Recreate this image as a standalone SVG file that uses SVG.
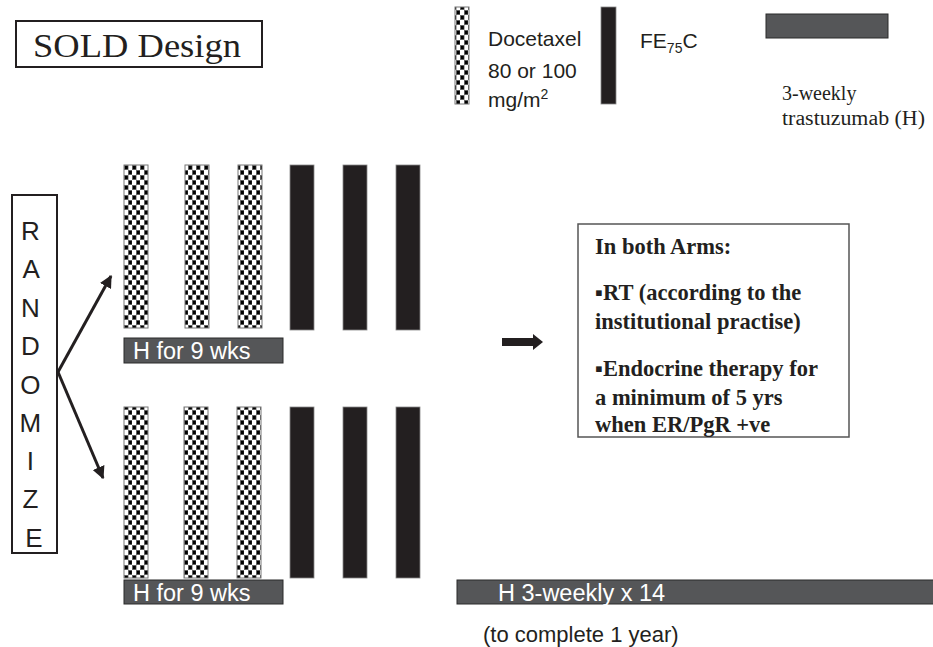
<svg xmlns="http://www.w3.org/2000/svg" width="933" height="647" viewBox="0 0 933 647">
<defs>
<pattern id="chk" x="124" y="165" width="8" height="10" patternUnits="userSpaceOnUse">
<rect width="8" height="10" fill="#fff"/>
<rect x="0.3" y="0.3" width="3.8" height="4.4" fill="#000" stroke="#666" stroke-width="0.6"/>
<rect x="4.3" y="5.3" width="3.8" height="4.4" fill="#000" stroke="#666" stroke-width="0.6"/>
</pattern>
<marker id="ah" viewBox="0 0 10 10" refX="9" refY="5" markerWidth="4.2" markerHeight="4.2" orient="auto" markerUnits="strokeWidth">
<path d="M0 0L10 5L0 10z" fill="#231f20"/>
</marker>
<style>
.chk{fill:url(#chk);stroke:#777;stroke-width:1}
.blk{fill:#231f20;stroke:#888;stroke-width:0.8}
.hbar{fill:#555658;stroke:#2a2a2a;stroke-width:1}
.sans{font-family:"Liberation Sans",Arial,sans-serif}
.serif{font-family:"Liberation Serif","Times New Roman",serif}
.wt{fill:#fff;font-size:23.5px}
.bx{font-family:"Liberation Serif","Times New Roman",serif;font-weight:bold;font-size:22.5px;fill:#231f20}
.rl{font-family:"Liberation Sans",Arial,sans-serif;font-size:26px;fill:#231f20}
</style>
</defs>
<rect width="933" height="647" fill="#fff"/>

<g id="title">
<rect x="16" y="21" width="246" height="46" fill="#fff" stroke="#231f20" stroke-width="2"/>
<text x="33" y="57" class="serif" font-size="34" fill="#231f20" textLength="208" lengthAdjust="spacingAndGlyphs">SOLD Design</text>
</g>

<g id="legend-docetaxel">
<rect x="455" y="7" width="14" height="97" class="chk"/>
<text class="sans" font-size="21" fill="#231f20"><tspan x="488" y="46">Docetaxel</tspan><tspan x="488" y="78">80 or 100</tspan><tspan x="488" y="107">mg/m<tspan font-size="14" dy="-8">2</tspan></tspan></text>
</g>

<g id="legend-fec">
<rect x="601" y="7" width="15" height="97" class="blk"/>
<text x="640" y="48" class="sans" font-size="21" fill="#231f20">FE<tspan font-size="14" dy="5">75</tspan><tspan dy="-5">C</tspan></text>
</g>

<g id="legend-h">
<rect x="766" y="14" width="122" height="24" class="hbar"/>
<text class="serif" font-size="20" fill="#231f20"><tspan x="782" y="100">3-weekly</tspan><tspan x="782" y="125" textLength="143" lengthAdjust="spacingAndGlyphs">trastuzumab (H)</tspan></text>
</g>

<g id="randomize">
<rect x="12" y="195" width="45" height="358" fill="#fff" stroke="#231f20" stroke-width="2"/>
<text class="rl" text-anchor="middle">
<tspan x="34" y="240">R</tspan>
<tspan x="34" y="278">A</tspan>
<tspan x="34" y="317">N</tspan>
<tspan x="34" y="355">D</tspan>
<tspan x="34" y="394">O</tspan>
<tspan x="34" y="432">M</tspan>
<tspan x="34" y="470">I</tspan>
<tspan x="34" y="508">Z</tspan>
<tspan x="34" y="547">E</tspan>
</text>
</g>

<g id="arm1">
<rect x="124" y="165" width="24" height="163" class="chk"/>
<rect x="185" y="165" width="24" height="163" class="chk"/>
<rect x="238" y="165" width="24" height="163" class="chk"/>
<rect x="290" y="165" width="24" height="165" class="blk"/>
<rect x="343" y="165" width="24" height="165" class="blk"/>
<rect x="396" y="165" width="24" height="165" class="blk"/>
<rect x="124" y="338" width="159" height="25" class="hbar"/>
<text x="133" y="359" class="sans wt">H for 9 wks</text>
</g>

<g id="arm2">
<rect x="124" y="407" width="24" height="171" class="chk"/>
<rect x="184" y="407" width="24" height="171" class="chk"/>
<rect x="237" y="407" width="24" height="171" class="chk"/>
<rect x="290" y="407" width="24" height="171" class="blk"/>
<rect x="343" y="407" width="24" height="171" class="blk"/>
<rect x="396" y="407" width="24" height="171" class="blk"/>
<rect x="124" y="580" width="159" height="24" class="hbar"/>
<text x="133" y="601" class="sans wt">H for 9 wks</text>
</g>

<g id="h-continue">
<rect x="457" y="580" width="480" height="24" class="hbar"/>
<text x="498" y="601" class="sans wt">H 3-weekly x 14</text>
<text x="483" y="642" class="sans" font-size="22" fill="#231f20">(to complete 1 year)</text>
</g>

<g id="both-arms">
<rect x="578" y="224" width="271" height="213" fill="#fff" stroke="#555" stroke-width="1.5"/>
<text class="bx">
<tspan x="595" y="254">In both Arms:</tspan>
<tspan x="595" y="300">▪RT (according to the</tspan>
<tspan x="595" y="329">institutional practise)</tspan>
<tspan x="595" y="376">▪Endocrine therapy for</tspan>
<tspan x="595" y="405">a minimum of 5 yrs</tspan>
<tspan x="595" y="432">when ER/PgR +ve</tspan>
</text>
</g>

<g id="connectors">
<path d="M58 372L111 276" stroke="#231f20" stroke-width="3" fill="none" marker-end="url(#ah)"/>
<path d="M58 372L103 478" stroke="#231f20" stroke-width="3" fill="none" marker-end="url(#ah)"/>
<path d="M502 338H533V334L543 342L533 350V346H502z" fill="#231f20"/>
</g>
</svg>
